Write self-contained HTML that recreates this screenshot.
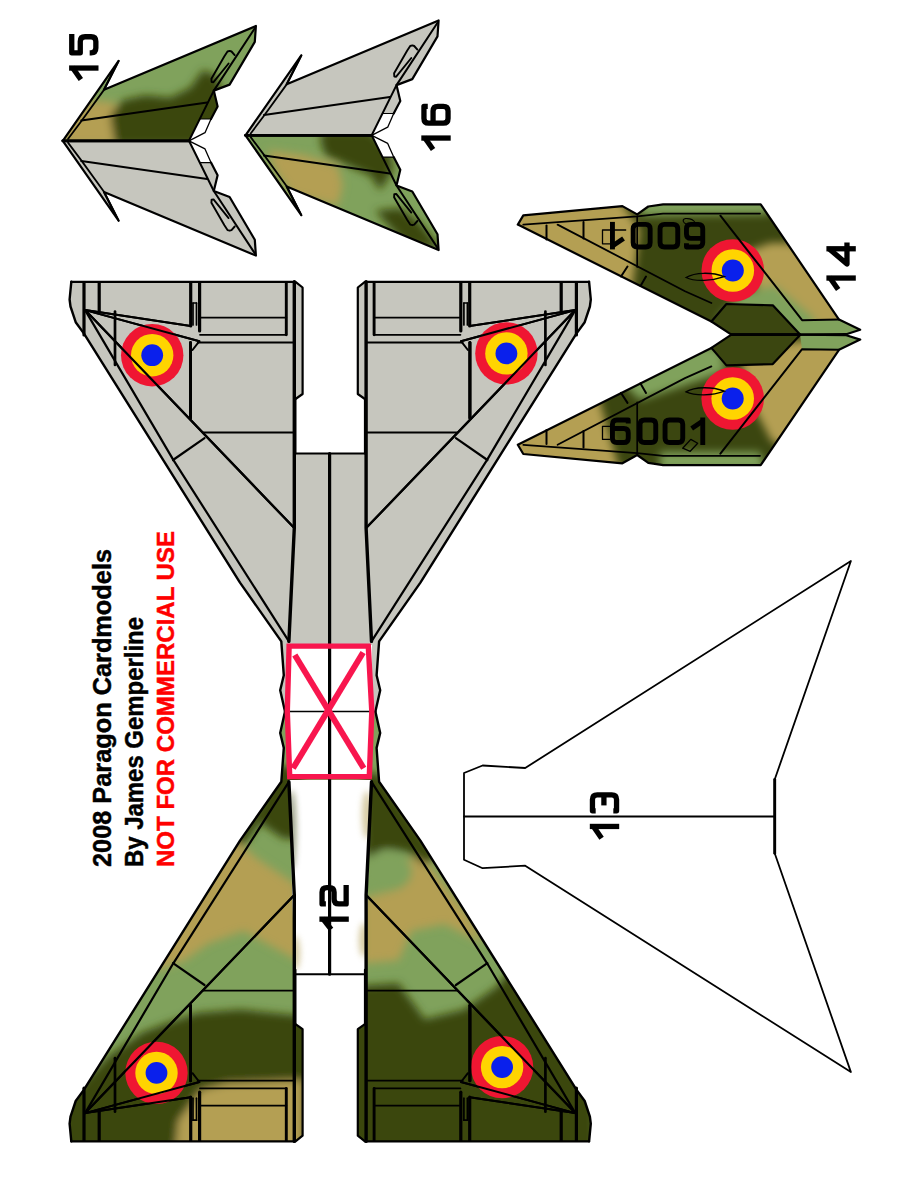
<!DOCTYPE html><html><head><meta charset="utf-8"><style>html,body{margin:0;padding:0;background:#fff;}svg{display:block;}</style></head><body>
<svg width="918" height="1188" viewBox="0 0 918 1188">
<defs><filter id="bl" x="-20%" y="-20%" width="140%" height="140%"><feGaussianBlur stdDeviation="4"/></filter><filter id="bl2" x="-50%" y="-50%" width="200%" height="200%"><feGaussianBlur stdDeviation="3"/></filter></defs>
<rect width="918" height="1188" fill="#fff"/>
<g id="p12">
<polygon points="71.3,281.8 295.5,281.8 302.6,287.5 302.6,394 295.5,399 295.5,452.9 330.2,452.9 364.9,452.9 364.9,399 357.8,394 357.8,287.5 364.9,281.8 589.1,281.8 590.8,299.5 589.9,306.5 584.7,322.2 576.4,333.6 420.4,582.6 379.1,641.4 376.6,675.3 380.2,690.3 375.4,711.6 285,711.6 280.2,690.3 283.8,675.3 281.3,641.4 240,582.6 84,333.6 75.7,322.2 70.5,306.5 69.6,299.5" fill="#c6c6be"/>
<clipPath id="c12b"><polygon points="71.3,1141.4 295.5,1141.4 302.6,1135.7 302.6,1029.2 295.5,1024.2 295.5,970.3 330.2,970.3 364.9,970.3 364.9,1024.2 357.8,1029.2 357.8,1135.7 364.9,1141.4 589.1,1141.4 590.8,1123.7 589.9,1116.7 584.7,1101 576.4,1089.6 420.4,840.6 379.1,781.8 376.6,747.9 380.2,732.9 375.4,711.6 285,711.6 280.2,732.9 283.8,747.9 281.3,781.8 240,840.6 84,1089.6 75.7,1101 70.5,1116.7 69.6,1123.7"/></clipPath>
<g clip-path="url(#c12b)"><rect x="40" y="700" width="600" height="460" fill="#80a25c"/>
<g filter="url(#bl)">
<polygon points="230.7,835.5 256.9,858.5 296.3,884.7 302.9,963.5 273.3,947.1 243.8,930.7 207.7,943.8 184.7,960.2 158.5,970.1 142.1,956.9 184.7,897.9 214.3,858.5" fill="#b49f52"/>
<polygon points="276.6,766.6 302.9,766.6 302.9,838.8 283.2,838.8 263.5,825.6 260.2,802.7" fill="#3b4610"/>
<polygon points="289.8,766.6 302.9,766.6 243.8,845.3 230.7,842.1" fill="#3b4610"/>
<polygon points="60,1153.9 60,1104.6 109.2,1055.4 142.1,1032.4 168.3,1022.6 197.9,1012.7 240.5,1009.5 302.9,1016 316,1016 316,1153.9" fill="#3b4610"/>
<polygon points="174.9,1153.9 178.2,1121 201.1,1089.9 227.4,1083.3 302.9,1080 302.9,1153.9" fill="#b49f52"/>
<polygon points="362.4,897.9 391.9,891.3 408.3,858.5 424.7,858.5 444.4,884.7 470.7,917.5 483.8,943.8 444.4,924.1 411.6,930.7 398.5,960.2 362.4,963.5" fill="#b49f52"/>
<ellipse cx="387" cy="871.6" rx="25" ry="20" fill="#80a25c"/>
<polygon points="362.4,773.1 378.8,773.1 437.9,855.2 424.7,865 408.3,851.9 385.3,848.6 365.6,858.5" fill="#3b4610"/>
<polygon points="349.2,986.5 398.5,983.2 424.7,1019.3 464.1,1009.5 496.9,986.5 510.1,970.1 595.4,1088.2 595.4,1153.9 349.2,1153.9" fill="#3b4610"/>
</g></g>
<rect x="288" y="645" width="84" height="133" fill="#fff"/>
<clipPath id="c12s"><polygon points="288.8,780 371.5,780 365,974.2 294.7,974.2"/></clipPath>
<g clip-path="url(#c12s)"><rect x="280" y="770" width="100" height="210" fill="#fff"/>
<g filter="url(#bl2)" opacity="0.55">
<ellipse cx="292" cy="830" rx="4" ry="40" fill="#3b4610"/>
<ellipse cx="295" cy="953" rx="5" ry="17" fill="#b49f52"/>
<ellipse cx="367" cy="815" rx="5" ry="24" fill="#b49f52"/>
<ellipse cx="364" cy="940" rx="5" ry="17" fill="#b49f52"/>
</g></g>
<polygon points="295.5,1024.2 295.5,970.3 364.9,970.3 364.9,1024.2" fill="#fff"/>
<polyline points="294.3,281.8 294.3,528 288.9,641.4" fill="none" stroke="#000" stroke-width="3.4" stroke-linejoin="round" stroke-linecap="round"/>
<polyline points="366.1,281.8 366.1,528 371.5,641.4" fill="none" stroke="#000" stroke-width="3.4" stroke-linejoin="round" stroke-linecap="round"/>
<polyline points="294.3,1141.4 294.3,895.2 288.9,781.8" fill="none" stroke="#000" stroke-width="3.4" stroke-linejoin="round" stroke-linecap="round"/>
<polyline points="366.1,1141.4 366.1,895.2 371.5,781.8" fill="none" stroke="#000" stroke-width="3.4" stroke-linejoin="round" stroke-linecap="round"/>
<polyline points="85.1,310.1 294.3,528.1" fill="none" stroke="#000" stroke-width="2.2" stroke-linejoin="round" stroke-linecap="round"/>
<polyline points="575.3,310.1 366.1,528.1" fill="none" stroke="#000" stroke-width="2.2" stroke-linejoin="round" stroke-linecap="round"/>
<polyline points="85.1,1113.1 294.3,895.1" fill="none" stroke="#000" stroke-width="2.2" stroke-linejoin="round" stroke-linecap="round"/>
<polyline points="575.3,1113.1 366.1,895.1" fill="none" stroke="#000" stroke-width="2.2" stroke-linejoin="round" stroke-linecap="round"/>
<polyline points="85.1,310.1 173.3,459.9 288.9,641.4" fill="none" stroke="#000" stroke-width="2.2" stroke-linejoin="round" stroke-linecap="round"/>
<polyline points="575.3,310.1 487.1,459.9 371.5,641.4" fill="none" stroke="#000" stroke-width="2.2" stroke-linejoin="round" stroke-linecap="round"/>
<polyline points="85.1,1113.1 173.3,963.3 288.9,781.8" fill="none" stroke="#000" stroke-width="2.2" stroke-linejoin="round" stroke-linecap="round"/>
<polyline points="575.3,1113.1 487.1,963.3 371.5,781.8" fill="none" stroke="#000" stroke-width="2.2" stroke-linejoin="round" stroke-linecap="round"/>
<polyline points="173,460 204.5,438.2" fill="none" stroke="#000" stroke-width="2.2" stroke-linejoin="round" stroke-linecap="round"/>
<polyline points="487.4,460 455.9,438.2" fill="none" stroke="#000" stroke-width="2.2" stroke-linejoin="round" stroke-linecap="round"/>
<polyline points="173,963.2 204.5,985" fill="none" stroke="#000" stroke-width="2.2" stroke-linejoin="round" stroke-linecap="round"/>
<polyline points="487.4,963.2 455.9,985" fill="none" stroke="#000" stroke-width="2.2" stroke-linejoin="round" stroke-linecap="round"/>
<polyline points="203.5,432.5 294.3,432.5" fill="none" stroke="#000" stroke-width="1.8" stroke-linejoin="round" stroke-linecap="round"/>
<polyline points="456.9,432.5 366.1,432.5" fill="none" stroke="#000" stroke-width="1.8" stroke-linejoin="round" stroke-linecap="round"/>
<polyline points="203.5,990.7 294.3,990.7" fill="none" stroke="#000" stroke-width="1.8" stroke-linejoin="round" stroke-linecap="round"/>
<polyline points="456.9,990.7 366.1,990.7" fill="none" stroke="#000" stroke-width="1.8" stroke-linejoin="round" stroke-linecap="round"/>
<polyline points="190.5,342.5 190.5,418" fill="none" stroke="#000" stroke-width="3" stroke-linejoin="round" stroke-linecap="round"/>
<polyline points="469.9,342.5 469.9,418" fill="none" stroke="#000" stroke-width="3" stroke-linejoin="round" stroke-linecap="round"/>
<polyline points="190.5,1080.7 190.5,1005.2" fill="none" stroke="#000" stroke-width="3" stroke-linejoin="round" stroke-linecap="round"/>
<polyline points="469.9,1080.7 469.9,1005.2" fill="none" stroke="#000" stroke-width="3" stroke-linejoin="round" stroke-linecap="round"/>
<polyline points="197.8,342.5 294.3,342.5" fill="none" stroke="#000" stroke-width="1.8" stroke-linejoin="round" stroke-linecap="round"/>
<polyline points="462.6,342.5 366.1,342.5" fill="none" stroke="#000" stroke-width="1.8" stroke-linejoin="round" stroke-linecap="round"/>
<polyline points="197.8,1080.7 294.3,1080.7" fill="none" stroke="#000" stroke-width="1.8" stroke-linejoin="round" stroke-linecap="round"/>
<polyline points="462.6,1080.7 366.1,1080.7" fill="none" stroke="#000" stroke-width="1.8" stroke-linejoin="round" stroke-linecap="round"/>
<polyline points="85.1,310.1 199.4,341.2 192.5,350" fill="none" stroke="#000" stroke-width="2" stroke-linejoin="round" stroke-linecap="round"/>
<polyline points="575.3,310.1 461,341.2 467.9,350" fill="none" stroke="#000" stroke-width="2" stroke-linejoin="round" stroke-linecap="round"/>
<polyline points="85.1,1113.1 199.4,1082 192.5,1073.2" fill="none" stroke="#000" stroke-width="2" stroke-linejoin="round" stroke-linecap="round"/>
<polyline points="575.3,1113.1 461,1082 467.9,1073.2" fill="none" stroke="#000" stroke-width="2" stroke-linejoin="round" stroke-linecap="round"/>
<polyline points="85.1,310.1 190.7,326" fill="none" stroke="#000" stroke-width="2" stroke-linejoin="round" stroke-linecap="round"/>
<polyline points="575.3,310.1 469.7,326" fill="none" stroke="#000" stroke-width="2" stroke-linejoin="round" stroke-linecap="round"/>
<polyline points="85.1,1113.1 190.7,1097.2" fill="none" stroke="#000" stroke-width="2" stroke-linejoin="round" stroke-linecap="round"/>
<polyline points="575.3,1113.1 469.7,1097.2" fill="none" stroke="#000" stroke-width="2" stroke-linejoin="round" stroke-linecap="round"/>
<polyline points="84,283 84,335" fill="none" stroke="#000" stroke-width="3.2" stroke-linejoin="round" stroke-linecap="round"/>
<polyline points="576.4,283 576.4,335" fill="none" stroke="#000" stroke-width="3.2" stroke-linejoin="round" stroke-linecap="round"/>
<polyline points="84,1140.2 84,1088.2" fill="none" stroke="#000" stroke-width="3.2" stroke-linejoin="round" stroke-linecap="round"/>
<polyline points="576.4,1140.2 576.4,1088.2" fill="none" stroke="#000" stroke-width="3.2" stroke-linejoin="round" stroke-linecap="round"/>
<polyline points="99.2,283 99.2,311" fill="none" stroke="#000" stroke-width="3.2" stroke-linejoin="round" stroke-linecap="round"/>
<polyline points="561.2,283 561.2,311" fill="none" stroke="#000" stroke-width="3.2" stroke-linejoin="round" stroke-linecap="round"/>
<polyline points="99.2,1140.2 99.2,1112.2" fill="none" stroke="#000" stroke-width="3.2" stroke-linejoin="round" stroke-linecap="round"/>
<polyline points="561.2,1140.2 561.2,1112.2" fill="none" stroke="#000" stroke-width="3.2" stroke-linejoin="round" stroke-linecap="round"/>
<polyline points="190.7,283 190.7,326" fill="none" stroke="#000" stroke-width="3.2" stroke-linejoin="round" stroke-linecap="round"/>
<polyline points="469.7,283 469.7,326" fill="none" stroke="#000" stroke-width="3.2" stroke-linejoin="round" stroke-linecap="round"/>
<polyline points="190.7,1140.2 190.7,1097.2" fill="none" stroke="#000" stroke-width="3.2" stroke-linejoin="round" stroke-linecap="round"/>
<polyline points="469.7,1140.2 469.7,1097.2" fill="none" stroke="#000" stroke-width="3.2" stroke-linejoin="round" stroke-linecap="round"/>
<polyline points="199.6,283 199.6,331" fill="none" stroke="#000" stroke-width="3.2" stroke-linejoin="round" stroke-linecap="round"/>
<polyline points="460.8,283 460.8,331" fill="none" stroke="#000" stroke-width="3.2" stroke-linejoin="round" stroke-linecap="round"/>
<polyline points="199.6,1140.2 199.6,1092.2" fill="none" stroke="#000" stroke-width="3.2" stroke-linejoin="round" stroke-linecap="round"/>
<polyline points="460.8,1140.2 460.8,1092.2" fill="none" stroke="#000" stroke-width="3.2" stroke-linejoin="round" stroke-linecap="round"/>
<polyline points="193,303 193,325" fill="none" stroke="#000" stroke-width="1.7" stroke-linejoin="round" stroke-linecap="round"/>
<polyline points="467.4,303 467.4,325" fill="none" stroke="#000" stroke-width="1.7" stroke-linejoin="round" stroke-linecap="round"/>
<polyline points="193,1120.2 193,1098.2" fill="none" stroke="#000" stroke-width="1.7" stroke-linejoin="round" stroke-linecap="round"/>
<polyline points="467.4,1120.2 467.4,1098.2" fill="none" stroke="#000" stroke-width="1.7" stroke-linejoin="round" stroke-linecap="round"/>
<polyline points="196.5,303 196.5,325" fill="none" stroke="#000" stroke-width="1.7" stroke-linejoin="round" stroke-linecap="round"/>
<polyline points="463.9,303 463.9,325" fill="none" stroke="#000" stroke-width="1.7" stroke-linejoin="round" stroke-linecap="round"/>
<polyline points="196.5,1120.2 196.5,1098.2" fill="none" stroke="#000" stroke-width="1.7" stroke-linejoin="round" stroke-linecap="round"/>
<polyline points="463.9,1120.2 463.9,1098.2" fill="none" stroke="#000" stroke-width="1.7" stroke-linejoin="round" stroke-linecap="round"/>
<polyline points="193,303 196.5,303" fill="none" stroke="#000" stroke-width="1.7" stroke-linejoin="round" stroke-linecap="round"/>
<polyline points="467.4,303 463.9,303" fill="none" stroke="#000" stroke-width="1.7" stroke-linejoin="round" stroke-linecap="round"/>
<polyline points="193,1120.2 196.5,1120.2" fill="none" stroke="#000" stroke-width="1.7" stroke-linejoin="round" stroke-linecap="round"/>
<polyline points="467.4,1120.2 463.9,1120.2" fill="none" stroke="#000" stroke-width="1.7" stroke-linejoin="round" stroke-linecap="round"/>
<polyline points="115,311.5 115,365" fill="none" stroke="#000" stroke-width="2.7" stroke-linejoin="round" stroke-linecap="round"/>
<polyline points="545.4,311.5 545.4,365" fill="none" stroke="#000" stroke-width="2.7" stroke-linejoin="round" stroke-linecap="round"/>
<polyline points="115,1111.7 115,1058.2" fill="none" stroke="#000" stroke-width="2.7" stroke-linejoin="round" stroke-linecap="round"/>
<polyline points="545.4,1111.7 545.4,1058.2" fill="none" stroke="#000" stroke-width="2.7" stroke-linejoin="round" stroke-linecap="round"/>
<polyline points="200,317.6 286.3,317.6" fill="none" stroke="#000" stroke-width="1.8" stroke-linejoin="round" stroke-linecap="round"/>
<polyline points="460.4,317.6 374.1,317.6" fill="none" stroke="#000" stroke-width="1.8" stroke-linejoin="round" stroke-linecap="round"/>
<polyline points="200,1105.6 286.3,1105.6" fill="none" stroke="#000" stroke-width="1.8" stroke-linejoin="round" stroke-linecap="round"/>
<polyline points="460.4,1105.6 374.1,1105.6" fill="none" stroke="#000" stroke-width="1.8" stroke-linejoin="round" stroke-linecap="round"/>
<polyline points="200,334.8 286.3,334.8" fill="none" stroke="#000" stroke-width="1.8" stroke-linejoin="round" stroke-linecap="round"/>
<polyline points="460.4,334.8 374.1,334.8" fill="none" stroke="#000" stroke-width="1.8" stroke-linejoin="round" stroke-linecap="round"/>
<polyline points="200,1088.4 286.3,1088.4" fill="none" stroke="#000" stroke-width="1.8" stroke-linejoin="round" stroke-linecap="round"/>
<polyline points="460.4,1088.4 374.1,1088.4" fill="none" stroke="#000" stroke-width="1.8" stroke-linejoin="round" stroke-linecap="round"/>
<polyline points="286.3,283 286.3,334.8" fill="none" stroke="#000" stroke-width="2.9" stroke-linejoin="round" stroke-linecap="round"/>
<polyline points="374.1,283 374.1,334.8" fill="none" stroke="#000" stroke-width="2.9" stroke-linejoin="round" stroke-linecap="round"/>
<polyline points="286.3,1140.2 286.3,1088.4" fill="none" stroke="#000" stroke-width="2.9" stroke-linejoin="round" stroke-linecap="round"/>
<polyline points="374.1,1140.2 374.1,1088.4" fill="none" stroke="#000" stroke-width="2.9" stroke-linejoin="round" stroke-linecap="round"/>
<polyline points="295.5,399 295.5,453.5" fill="none" stroke="#000" stroke-width="2" stroke-linejoin="round" stroke-linecap="round"/>
<polyline points="364.9,399 364.9,453.5" fill="none" stroke="#000" stroke-width="2" stroke-linejoin="round" stroke-linecap="round"/>
<polyline points="295.5,1024.2 295.5,969.7" fill="none" stroke="#000" stroke-width="2" stroke-linejoin="round" stroke-linecap="round"/>
<polyline points="364.9,1024.2 364.9,969.7" fill="none" stroke="#000" stroke-width="2" stroke-linejoin="round" stroke-linecap="round"/>
<polyline points="71.3,281.8 295.5,281.8 302.6,287.5 302.6,394 295.5,399" fill="none" stroke="#000" stroke-width="2.2" stroke-linejoin="round" stroke-linecap="round"/>
<polyline points="589.1,281.8 364.9,281.8 357.8,287.5 357.8,394 364.9,399" fill="none" stroke="#000" stroke-width="2.2" stroke-linejoin="round" stroke-linecap="round"/>
<polyline points="71.3,1141.4 295.5,1141.4 302.6,1135.7 302.6,1029.2 295.5,1024.2" fill="none" stroke="#000" stroke-width="2.2" stroke-linejoin="round" stroke-linecap="round"/>
<polyline points="589.1,1141.4 364.9,1141.4 357.8,1135.7 357.8,1029.2 364.9,1024.2" fill="none" stroke="#000" stroke-width="2.2" stroke-linejoin="round" stroke-linecap="round"/>
<polyline points="285,711.6 280.2,690.3 283.8,675.3 281.3,641.4 240,582.6 84,333.6 75.7,322.2 70.5,306.5 69.6,299.5 71.3,281.8" fill="none" stroke="#000" stroke-width="2.4" stroke-linejoin="round" stroke-linecap="round"/>
<polyline points="375.4,711.6 380.2,690.3 376.6,675.3 379.1,641.4 420.4,582.6 576.4,333.6 584.7,322.2 589.9,306.5 590.8,299.5 589.1,281.8" fill="none" stroke="#000" stroke-width="2.4" stroke-linejoin="round" stroke-linecap="round"/>
<polyline points="285,711.6 280.2,732.9 283.8,747.9 281.3,781.8 240,840.6 84,1089.6 75.7,1101 70.5,1116.7 69.6,1123.7 71.3,1141.4" fill="none" stroke="#000" stroke-width="2.4" stroke-linejoin="round" stroke-linecap="round"/>
<polyline points="375.4,711.6 380.2,732.9 376.6,747.9 379.1,781.8 420.4,840.6 576.4,1089.6 584.7,1101 589.9,1116.7 590.8,1123.7 589.1,1141.4" fill="none" stroke="#000" stroke-width="2.4" stroke-linejoin="round" stroke-linecap="round"/>
<polyline points="294.7,453.5 365,453.5" fill="none" stroke="#000" stroke-width="2" stroke-linejoin="round" stroke-linecap="round"/>
<polyline points="294.7,974.2 365,974.2" fill="none" stroke="#000" stroke-width="2" stroke-linejoin="round" stroke-linecap="round"/>
<polyline points="329.6,453.5 329.6,974.2" fill="none" stroke="#000" stroke-width="3.2" stroke-linejoin="round" stroke-linecap="round"/>
<polyline points="288,711.6 372,711.6" fill="none" stroke="#000" stroke-width="1.5" stroke-linejoin="round" stroke-linecap="round"/>
</g>
<circle cx="152.2" cy="355.2" r="31.2" fill="#ef1632"/><circle cx="152.2" cy="355.2" r="21.2" fill="#ffd400"/><circle cx="152.2" cy="355.2" r="10.9" fill="#0a20ec"/>
<circle cx="506.4" cy="353.4" r="31.2" fill="#ef1632"/><circle cx="506.4" cy="353.4" r="21.2" fill="#ffd400"/><circle cx="506.4" cy="353.4" r="10.9" fill="#0a20ec"/>
<circle cx="156.5" cy="1072.9" r="31.2" fill="#ef1632"/><circle cx="156.5" cy="1072.9" r="21.2" fill="#ffd400"/><circle cx="156.5" cy="1072.9" r="10.9" fill="#0a20ec"/>
<circle cx="502.1" cy="1067.1" r="31.2" fill="#ef1632"/><circle cx="502.1" cy="1067.1" r="21.2" fill="#ffd400"/><circle cx="502.1" cy="1067.1" r="10.9" fill="#0a20ec"/>
<polyline points="85.1,310.1 294.3,528.1" fill="none" stroke="#000" stroke-width="2.2" stroke-linejoin="round" stroke-linecap="round"/>
<polyline points="575.3,310.1 366.1,528.1" fill="none" stroke="#000" stroke-width="2.2" stroke-linejoin="round" stroke-linecap="round"/>
<polyline points="85.1,1113.1 294.3,895.1" fill="none" stroke="#000" stroke-width="2.2" stroke-linejoin="round" stroke-linecap="round"/>
<polyline points="575.3,1113.1 366.1,895.1" fill="none" stroke="#000" stroke-width="2.2" stroke-linejoin="round" stroke-linecap="round"/>
<polyline points="85.1,310.1 199.4,341.2" fill="none" stroke="#000" stroke-width="2" stroke-linejoin="round" stroke-linecap="round"/>
<polyline points="575.3,310.1 461,341.2" fill="none" stroke="#000" stroke-width="2" stroke-linejoin="round" stroke-linecap="round"/>
<polyline points="85.1,1113.1 199.4,1082" fill="none" stroke="#000" stroke-width="2" stroke-linejoin="round" stroke-linecap="round"/>
<polyline points="575.3,1113.1 461,1082" fill="none" stroke="#000" stroke-width="2" stroke-linejoin="round" stroke-linecap="round"/>
<polyline points="85.1,310.1 190.7,326" fill="none" stroke="#000" stroke-width="2" stroke-linejoin="round" stroke-linecap="round"/>
<polyline points="575.3,310.1 469.7,326" fill="none" stroke="#000" stroke-width="2" stroke-linejoin="round" stroke-linecap="round"/>
<polyline points="85.1,1113.1 190.7,1097.2" fill="none" stroke="#000" stroke-width="2" stroke-linejoin="round" stroke-linecap="round"/>
<polyline points="575.3,1113.1 469.7,1097.2" fill="none" stroke="#000" stroke-width="2" stroke-linejoin="round" stroke-linecap="round"/>
<polyline points="190.5,342.5 190.5,418" fill="none" stroke="#000" stroke-width="3" stroke-linejoin="round" stroke-linecap="round"/>
<polyline points="469.9,342.5 469.9,418" fill="none" stroke="#000" stroke-width="3" stroke-linejoin="round" stroke-linecap="round"/>
<polyline points="190.5,1080.7 190.5,1005.2" fill="none" stroke="#000" stroke-width="3" stroke-linejoin="round" stroke-linecap="round"/>
<polyline points="469.9,1080.7 469.9,1005.2" fill="none" stroke="#000" stroke-width="3" stroke-linejoin="round" stroke-linecap="round"/>
<g fill="none" stroke="#f8164e" stroke-width="5.4" stroke-linecap="butt"><polygon points="289.1,646.1 368.3,646.1 371.8,711.6 369.3,776.6 289.7,776.6 287.3,711.6" stroke-linejoin="miter"/><line x1="294.8" y1="655" x2="363.7" y2="768.3" stroke-width="6"/><line x1="363.1" y1="652.5" x2="293" y2="768.3" stroke-width="6"/></g>
<g transform="translate(0,0)"><clipPath id="c15u"><polygon points="62.8,140.8 118.6,60.9 104,89.7 255.9,26 254.8,41.9 229.6,84.6 213.8,90.6 217.6,106.4 211,119 199.8,119 189,140.8"/></clipPath><g clip-path="url(#c15u)"><rect x="50" y="0" width="220" height="290" fill="#80a25c"/><g filter="url(#bl)"><polygon points="55,145 63,141 67.6,120.2 90.1,100.2 115.2,102.7 122.7,120.2 117.7,145" fill="#b49f52"/><polygon points="110.2,115.2 122.7,100.2 145.2,95.2 170.3,97.7 190.3,87.7 202.9,70.1 215.4,75.1 224,95 224,125 200.4,145 115.2,145" fill="#3b4610"/></g></g><polygon points="62.8,140.8 118.6,220.7 104,191.9 255.9,255.6 254.8,239.7 229.6,197 213.8,191 217.6,175.2 211,162.6 199.8,162.6 189,140.8" fill="#c6c6be"/><polygon points="199.8,119 211,119 205,132.7 189,140.8" fill="#fff"/><polygon points="199.8,162.6 211,162.6 205,148.9 189,140.8" fill="#fff"/><polyline points="62.8,140.8 118.6,60.9 104,89.7 255.9,26 254.8,41.9 229.6,84.6 213.8,90.6 217.6,106.4 211,119" fill="none" stroke="#000" stroke-width="2.2" stroke-linejoin="round" stroke-linecap="round"/><polyline points="62.8,140.8 118.6,220.7 104,191.9 255.9,255.6 254.8,239.7 229.6,197 213.8,191 217.6,175.2 211,162.6" fill="none" stroke="#000" stroke-width="2.2" stroke-linejoin="round" stroke-linecap="round"/><polyline points="211,119 205,132.7 189,140.8" fill="none" stroke="#000" stroke-width="1.3" stroke-linejoin="round" stroke-linecap="round"/><polyline points="211,162.6 205,148.9 189,140.8" fill="none" stroke="#000" stroke-width="1.3" stroke-linejoin="round" stroke-linecap="round"/><polyline points="68,139 81.1,121.5 103.8,90.1 118.6,60.9" fill="none" stroke="#000" stroke-width="1.8" stroke-linejoin="round" stroke-linecap="round"/><polyline points="68,142.6 81.1,160.1 103.8,191.5 118.6,220.7" fill="none" stroke="#000" stroke-width="1.8" stroke-linejoin="round" stroke-linecap="round"/><polyline points="81.3,120.5 207.2,102.6" fill="none" stroke="#000" stroke-width="2" stroke-linejoin="round" stroke-linecap="round"/><polyline points="81.3,161.1 207.2,179" fill="none" stroke="#000" stroke-width="2" stroke-linejoin="round" stroke-linecap="round"/><polyline points="254.8,28.2 213.8,90.6 189,140.8" fill="none" stroke="#000" stroke-width="2" stroke-linejoin="round" stroke-linecap="round"/><polyline points="254.8,253.4 213.8,191 189,140.8" fill="none" stroke="#000" stroke-width="2" stroke-linejoin="round" stroke-linecap="round"/><polyline points="199.8,119 211,119" fill="none" stroke="#000" stroke-width="1.2" stroke-linejoin="round" stroke-linecap="round"/><polyline points="199.8,162.6 211,162.6" fill="none" stroke="#000" stroke-width="1.2" stroke-linejoin="round" stroke-linecap="round"/><polyline points="62.8,140.8 189,140.8" fill="none" stroke="#000" stroke-width="2.7" stroke-linejoin="round" stroke-linecap="round"/><polyline points="62.8,140.8 189,140.8" fill="none" stroke="#000" stroke-width="2.7" stroke-linejoin="round" stroke-linecap="round"/><polyline points="234.7,55.1 231.5,51.5 229.7,50.9 227.5,51.5 224.4,56.3 211.4,78.8 211.6,82 213.5,82.2 228.6,63.5" fill="none" stroke="#000" stroke-width="1.9" stroke-linejoin="round" stroke-linecap="round"/><polyline points="234.7,226.5 231.5,230.1 229.7,230.7 227.5,230.1 224.4,225.3 211.4,202.8 211.6,199.6 213.5,199.4 228.6,218.1" fill="none" stroke="#000" stroke-width="1.9" stroke-linejoin="round" stroke-linecap="round"/></g>
<g transform="translate(182.7,-5.5)"><polygon points="62.8,140.8 118.6,60.9 104,89.7 255.9,26 254.8,41.9 229.6,84.6 213.8,90.6 217.6,106.4 211,119 199.8,119 189,140.8" fill="#c6c6be"/><clipPath id="c16d"><polygon points="62.8,140.8 118.6,220.7 104,191.9 255.9,255.6 254.8,239.7 229.6,197 213.8,191 217.6,175.2 211,162.6 199.8,162.6 189,140.8"/></clipPath><g clip-path="url(#c16d)"><rect x="50" y="0" width="220" height="290" fill="#80a25c"/><g filter="url(#bl)"><polygon points="84.9,155.8 122.5,160.8 155,170.9 160.1,190.9 155,210.9 109.9,200.9 92.4,175.9" fill="#b49f52"/><polygon points="140,136.5 187.6,136.5 207.7,155.8 210.2,175.9 197.6,195.9 187.6,180.9 165.1,170.9 142.5,160.8 137.5,145.8" fill="#3b4610"/><polygon points="192.6,215.9 217.7,213.4 237.7,228.5 259.3,255.5 222.7,250.5" fill="#3b4610"/></g></g><polygon points="199.8,119 211,119 205,132.7 189,140.8" fill="#fff"/><polygon points="199.8,162.6 211,162.6 205,148.9 189,140.8" fill="#fff"/><polyline points="62.8,140.8 118.6,60.9 104,89.7 255.9,26 254.8,41.9 229.6,84.6 213.8,90.6 217.6,106.4 211,119" fill="none" stroke="#000" stroke-width="2.2" stroke-linejoin="round" stroke-linecap="round"/><polyline points="62.8,140.8 118.6,220.7 104,191.9 255.9,255.6 254.8,239.7 229.6,197 213.8,191 217.6,175.2 211,162.6" fill="none" stroke="#000" stroke-width="2.2" stroke-linejoin="round" stroke-linecap="round"/><polyline points="211,119 205,132.7 189,140.8" fill="none" stroke="#000" stroke-width="1.3" stroke-linejoin="round" stroke-linecap="round"/><polyline points="211,162.6 205,148.9 189,140.8" fill="none" stroke="#000" stroke-width="1.3" stroke-linejoin="round" stroke-linecap="round"/><polyline points="68,139 81.1,121.5 103.8,90.1 118.6,60.9" fill="none" stroke="#000" stroke-width="1.8" stroke-linejoin="round" stroke-linecap="round"/><polyline points="68,142.6 81.1,160.1 103.8,191.5 118.6,220.7" fill="none" stroke="#000" stroke-width="1.8" stroke-linejoin="round" stroke-linecap="round"/><polyline points="81.3,120.5 207.2,102.6" fill="none" stroke="#000" stroke-width="2" stroke-linejoin="round" stroke-linecap="round"/><polyline points="81.3,161.1 207.2,179" fill="none" stroke="#000" stroke-width="2" stroke-linejoin="round" stroke-linecap="round"/><polyline points="254.8,28.2 213.8,90.6 189,140.8" fill="none" stroke="#000" stroke-width="2" stroke-linejoin="round" stroke-linecap="round"/><polyline points="254.8,253.4 213.8,191 189,140.8" fill="none" stroke="#000" stroke-width="2" stroke-linejoin="round" stroke-linecap="round"/><polyline points="199.8,119 211,119" fill="none" stroke="#000" stroke-width="1.2" stroke-linejoin="round" stroke-linecap="round"/><polyline points="199.8,162.6 211,162.6" fill="none" stroke="#000" stroke-width="1.2" stroke-linejoin="round" stroke-linecap="round"/><polyline points="62.8,140.8 189,140.8" fill="none" stroke="#000" stroke-width="2.7" stroke-linejoin="round" stroke-linecap="round"/><polyline points="62.8,140.8 189,140.8" fill="none" stroke="#000" stroke-width="2.7" stroke-linejoin="round" stroke-linecap="round"/><polyline points="234.7,55.1 231.5,51.5 229.7,50.9 227.5,51.5 224.4,56.3 211.4,78.8 211.6,82 213.5,82.2 228.6,63.5" fill="none" stroke="#000" stroke-width="1.9" stroke-linejoin="round" stroke-linecap="round"/><polyline points="234.7,226.5 231.5,230.1 229.7,230.7 227.5,230.1 224.4,225.3 211.4,202.8 211.6,199.6 213.5,199.4 228.6,218.1" fill="none" stroke="#000" stroke-width="1.9" stroke-linejoin="round" stroke-linecap="round"/></g>
<g id="p14"><clipPath id="c14u"><polygon points="517.8,224.6 523.3,215.4 622.4,206.1 637.2,214.4 648.3,206.5 663.1,204.3 760.7,204.3 839,319.6 860.2,329.8 846.3,334.2 800,334.7 731.4,334.7 711.4,321.5"/></clipPath><g clip-path="url(#c14u)"><rect x="500" y="195" width="370" height="150" fill="#3b4610"/><g filter="url(#bl)"><polygon points="505,200 620,200 640,230 632,290 600,290 505,240" fill="#b49f52"/><polygon points="746,252 770,243 792,243 880,322 880,345 800,345 780,305 755,285" fill="#b49f52"/><polygon points="640,198 770,198 770,214 700,215 640,216" fill="#80a25c"/><polygon points="742,292 775,285 815,318 815,342 720,342 718,318" fill="#80a25c"/></g></g><clipPath id="c14d"><polygon points="517.8,444.8 523.3,454 622.4,463.3 637.2,455 648.3,462.9 663.1,465.1 760.7,465.1 839,349.8 860.2,339.6 846.3,335.2 800,334.7 731.4,334.7 711.4,347.9"/></clipPath><g clip-path="url(#c14d)"><rect x="500" y="330" width="370" height="150" fill="#3b4610"/><g filter="url(#bl)"><polygon points="505,395 598,395 608,430 622,478 505,478" fill="#b49f52"/><polygon points="745,350 870,330 870,380 795,448 772,442 750,400 742,372" fill="#b49f52"/><polygon points="600,360 700,342 722,350 725,372 640,400" fill="#80a25c"/><polygon points="660,452 760,452 765,470 660,470" fill="#80a25c"/></g></g><polygon points="711.4,321.5 726.4,304 772.8,305.3 800.3,334.7 731.4,334.7" fill="#3b4610"/><polygon points="711.4,347.9 726.4,365.4 772.8,364.1 800.3,334.7 731.4,334.7" fill="#3b4610"/><polygon points="839,319.6 860.2,329.8 846.3,334.2 800,334.7 802.1,320.2" fill="#80a25c"/><polygon points="839,349.8 860.2,339.6 846.3,335.2 800,334.7 802.1,349.2" fill="#80a25c"/><circle cx="732.8" cy="270.5" r="31.3" fill="#ef1632"/><circle cx="732.8" cy="270.5" r="21.3" fill="#ffd400"/><circle cx="732.8" cy="270.5" r="11" fill="#0a20ec"/><circle cx="732.7" cy="398.5" r="31.3" fill="#ef1632"/><circle cx="732.7" cy="398.5" r="21.3" fill="#ffd400"/><circle cx="732.7" cy="398.5" r="11" fill="#0a20ec"/><polyline points="517.8,224.6 523.3,215.4 622.4,206.1 637.2,214.4 648.3,206.5 663.1,204.3 760.7,204.3 839,319.6 860.2,329.8 846.3,334.2 800,334.7 731.4,334.7 711.4,321.5 517.8,224.6" fill="none" stroke="#000" stroke-width="2.2" stroke-linejoin="round" stroke-linecap="round"/><polyline points="517.8,444.8 523.3,454 622.4,463.3 637.2,455 648.3,462.9 663.1,465.1 760.7,465.1 839,349.8 860.2,339.6 846.3,335.2 800,334.7 731.4,334.7 711.4,347.9 517.8,444.8" fill="none" stroke="#000" stroke-width="2.2" stroke-linejoin="round" stroke-linecap="round"/><polyline points="711.4,321.5 726.4,304 772.8,305.3 800.3,334.7 731.4,334.7" fill="none" stroke="#000" stroke-width="2.2" stroke-linejoin="round" stroke-linecap="round"/><polyline points="711.4,347.9 726.4,365.4 772.8,364.1 800.3,334.7 731.4,334.7" fill="none" stroke="#000" stroke-width="2.2" stroke-linejoin="round" stroke-linecap="round"/><polyline points="523.3,224.6 637.2,216.3 663.1,213.6 760,213.6" fill="none" stroke="#000" stroke-width="1.8" stroke-linejoin="round" stroke-linecap="round"/><polyline points="523.3,444.8 637.2,453.1 663.1,455.8 760,455.8" fill="none" stroke="#000" stroke-width="1.8" stroke-linejoin="round" stroke-linecap="round"/><polyline points="557.6,224.6 685,291.3 711.4,303" fill="none" stroke="#000" stroke-width="1.8" stroke-linejoin="round" stroke-linecap="round"/><polyline points="557.6,444.8 685,378.1 711.4,366.4" fill="none" stroke="#000" stroke-width="1.8" stroke-linejoin="round" stroke-linecap="round"/><polyline points="720.4,215.7 802.1,320.2 839,319.6" fill="none" stroke="#000" stroke-width="2" stroke-linejoin="round" stroke-linecap="round"/><polyline points="720.4,453.7 802.1,349.2 839,349.8" fill="none" stroke="#000" stroke-width="2" stroke-linejoin="round" stroke-linecap="round"/><polyline points="546.5,225.5 546.5,239.5" fill="none" stroke="#000" stroke-width="2" stroke-linejoin="round" stroke-linecap="round"/><polyline points="546.5,443.9 546.5,429.9" fill="none" stroke="#000" stroke-width="2" stroke-linejoin="round" stroke-linecap="round"/><polyline points="583.5,222 583.5,238.5" fill="none" stroke="#000" stroke-width="2" stroke-linejoin="round" stroke-linecap="round"/><polyline points="583.5,447.4 583.5,430.9" fill="none" stroke="#000" stroke-width="2" stroke-linejoin="round" stroke-linecap="round"/><polyline points="637.2,216.3 637.2,267" fill="none" stroke="#000" stroke-width="1.7" stroke-linejoin="round" stroke-linecap="round"/><polyline points="637.2,453.1 637.2,402.4" fill="none" stroke="#000" stroke-width="1.7" stroke-linejoin="round" stroke-linecap="round"/><polyline points="627.5,266.5 621,276.5" fill="none" stroke="#000" stroke-width="2" stroke-linejoin="round" stroke-linecap="round"/><polyline points="627.5,402.9 621,392.9" fill="none" stroke="#000" stroke-width="2" stroke-linejoin="round" stroke-linecap="round"/><polyline points="646,276.5 640.5,286" fill="none" stroke="#000" stroke-width="2" stroke-linejoin="round" stroke-linecap="round"/><polyline points="646,392.9 640.5,383.4" fill="none" stroke="#000" stroke-width="2" stroke-linejoin="round" stroke-linecap="round"/><path d="M686,277.5 C695,272 712,272 724.5,276.7 C712,281 695,282 686,277.5Z" fill="none" stroke="#000" stroke-width="1.3"/><path d="M686,391.9 C695,386.5 712,386.5 724.5,391.2 C712,396 695,396 686,391.9Z" fill="none" stroke="#000" stroke-width="1.3"/><polyline points="682.7,448.2 690.8,439.4 697.7,443.2 690.2,451.3 682.7,448.2" fill="none" stroke="#000" stroke-width="1.3" stroke-linejoin="round" stroke-linecap="round"/><polyline points="610,426.3 602.5,426.3 602.5,439.4 610,439.4" fill="none" stroke="#000" stroke-width="1.3" stroke-linejoin="round" stroke-linecap="round"/><polyline points="625.7,230 602.5,230 602.5,243.8 610,243.8" fill="none" stroke="#000" stroke-width="1.3" stroke-linejoin="round" stroke-linecap="round"/><ellipse cx="689" cy="221.8" rx="6" ry="3" fill="none" stroke="#000" stroke-width="1.2" transform="rotate(15 689 221.8)"/><g transform="translate(705.2,221.9) rotate(180)" fill="none" stroke="#000" stroke-width="4.9" stroke-linejoin="round" stroke-linecap="butt"><path transform="translate(0,0)" d="M18.75,-21.45 L18.75,-25.05 L6.86,-25.05 Q2.45,-25.05 2.45,-20.64 L2.45,-6.86 Q2.45,-2.45 6.86,-2.45 L14.34,-2.45 Q18.75,-2.45 18.75,-6.86 L18.75,-12.09 Q18.75,-16.5 14.34,-16.5 L2.45,-16.5"/><path transform="translate(25,0)" d="M6.86,-25.05 L15.74,-25.05 Q20.15,-25.05 20.15,-20.64 L20.15,-6.86 Q20.15,-2.45 15.74,-2.45 L6.86,-2.45 Q2.45,-2.45 2.45,-6.86 L2.45,-20.64 Q2.45,-25.05 6.86,-25.05 Z"/><path transform="translate(52.6,0)" d="M6.86,-25.05 L15.04,-25.05 Q19.45,-25.05 19.45,-20.64 L19.45,-6.86 Q19.45,-2.45 15.04,-2.45 L6.86,-2.45 Q2.45,-2.45 2.45,-6.86 L2.45,-20.64 Q2.45,-25.05 6.86,-25.05 Z"/><path transform="translate(80.2,0)" d="M12.55,-27.5 L12.55,0"/><path transform="translate(80.2,0)" d="M13.29,-24.56 L1.47,-16.5"/></g><g transform="translate(610,445)" fill="none" stroke="#000" stroke-width="4.9" stroke-linejoin="round" stroke-linecap="butt"><path transform="translate(0,0)" d="M18.25,-21.45 L18.25,-25.05 L6.86,-25.05 Q2.45,-25.05 2.45,-20.64 L2.45,-6.86 Q2.45,-2.45 6.86,-2.45 L13.84,-2.45 Q18.25,-2.45 18.25,-6.86 L18.25,-12.09 Q18.25,-16.5 13.84,-16.5 L2.45,-16.5"/><path transform="translate(27.6,0)" d="M6.86,-25.05 L13.74,-25.05 Q18.15,-25.05 18.15,-20.64 L18.15,-6.86 Q18.15,-2.45 13.74,-2.45 L6.86,-2.45 Q2.45,-2.45 2.45,-6.86 L2.45,-20.64 Q2.45,-25.05 6.86,-25.05 Z"/><path transform="translate(52.6,0)" d="M6.86,-25.05 L15.74,-25.05 Q20.15,-25.05 20.15,-20.64 L20.15,-6.86 Q20.15,-2.45 15.74,-2.45 L6.86,-2.45 Q2.45,-2.45 2.45,-6.86 L2.45,-20.64 Q2.45,-25.05 6.86,-25.05 Z"/><path transform="translate(80.2,0)" d="M12.55,-27.5 L12.55,0"/><path transform="translate(80.2,0)" d="M13.29,-24.56 L1.47,-16.5"/></g></g>
<polygon points="525.2,768 482.6,765.5 464,773 464,859.7 482.6,868.2 525.2,865.7 850.9,1072.1 774.7,853.2 774.7,779.5 850.9,561" fill="#fff" stroke="#000" stroke-width="1.8" stroke-linejoin="round"/>
<polyline points="464,816.6 774.7,816.6" fill="none" stroke="#000" stroke-width="2" stroke-linejoin="round" stroke-linecap="round"/>
<polyline points="774.7,779.5 774.7,853.2" fill="none" stroke="#000" stroke-width="2.9" stroke-linejoin="round" stroke-linecap="round"/>
<g transform="translate(98.5,81) rotate(-90)" fill="none" stroke="#000" stroke-width="5.3" stroke-linejoin="round" stroke-linecap="butt"><path transform="translate(0,0)" d="M12.95,-29.4 L12.95,0"/><path transform="translate(0,0)" d="M13.74,-26.22 L1.59,-17.64"/><path transform="translate(25.5,0)" d="M21.4,-26.75 L2.65,-26.75 L2.65,-18.23 L13.98,-18.23 Q18.75,-18.23 18.75,-13.46 L18.75,-7.42 Q18.75,-2.65 13.98,-2.65 L7.42,-2.65 Q2.65,-2.65 2.65,-7.42 L2.65,-8.82"/></g>
<g transform="translate(450.7,151) rotate(-90)" fill="none" stroke="#000" stroke-width="5.3" stroke-linejoin="round" stroke-linecap="butt"><path transform="translate(0,0)" d="M12.95,-29.4 L12.95,0"/><path transform="translate(0,0)" d="M13.74,-26.22 L1.59,-17.64"/><path transform="translate(25.2,0)" d="M19.45,-22.93 L19.45,-26.75 L7.42,-26.75 Q2.65,-26.75 2.65,-21.98 L2.65,-7.42 Q2.65,-2.65 7.42,-2.65 L14.68,-2.65 Q19.45,-2.65 19.45,-7.42 L19.45,-12.87 Q19.45,-17.64 14.68,-17.64 L2.65,-17.64"/></g>
<g transform="translate(855.8,291) rotate(-90)" fill="none" stroke="#000" stroke-width="5.3" stroke-linejoin="round" stroke-linecap="butt"><path transform="translate(0,0)" d="M12.95,-29.4 L12.95,0"/><path transform="translate(0,0)" d="M13.74,-26.22 L1.59,-17.64"/><path transform="translate(24.4,0)" d="M17.83,-29.4 L17.83,0"/><path transform="translate(24.4,0)" d="M17.83,-26.75 L2.65,-8.82 L24.1,-8.82"/></g>
<g transform="translate(619.2,839.8) rotate(-90)" fill="none" stroke="#000" stroke-width="5.3" stroke-linejoin="round" stroke-linecap="butt"><path transform="translate(0,0)" d="M13.35,-29.4 L13.35,0"/><path transform="translate(0,0)" d="M14.14,-26.22 L1.59,-17.64"/><path transform="translate(26.3,0)" d="M2.65,-23.52 L2.65,-26.75 L13.88,-26.75 Q18.65,-26.75 18.65,-21.98 L18.65,-7.42 Q18.65,-2.65 13.88,-2.65 L2.65,-2.65 L2.65,-5.88"/><path transform="translate(26.3,0)" d="M8.09,-15.29 L18.65,-15.29"/></g>
<g transform="translate(348.8,931) rotate(-90)" fill="none" stroke="#000" stroke-width="5.3" stroke-linejoin="round" stroke-linecap="butt"><path transform="translate(0,0)" d="M11.85,-29.4 L11.85,0"/><path transform="translate(0,0)" d="M12.64,-26.22 L1.59,-17.64"/><path transform="translate(24.4,0)" d="M2.65,-22.93 L2.65,-26.75 L14.28,-26.75 Q19.05,-26.75 19.05,-21.98 L19.05,-19.47 Q19.05,-14.7 14.28,-14.7 L7.42,-14.7 Q2.65,-14.7 2.65,-9.93 L2.65,-2.65 L21.7,-2.65"/></g>
<g font-family="Liberation Sans" font-weight="bold" stroke-width="0.45">
<text transform="translate(111,867) rotate(-90)" font-size="25.5" textLength="318" lengthAdjust="spacingAndGlyphs" fill="#000" stroke="#000">2008 Paragon Cardmodels</text>
<text transform="translate(143.3,867) rotate(-90)" font-size="25.5" textLength="250" lengthAdjust="spacingAndGlyphs" fill="#000" stroke="#000">By James Gemperline</text>
<text transform="translate(174.3,867) rotate(-90)" font-size="24" textLength="336" lengthAdjust="spacingAndGlyphs" fill="#ff0000" stroke="#ff0000">NOT FOR COMMERCIAL USE</text>
</g>
</svg></body></html>
